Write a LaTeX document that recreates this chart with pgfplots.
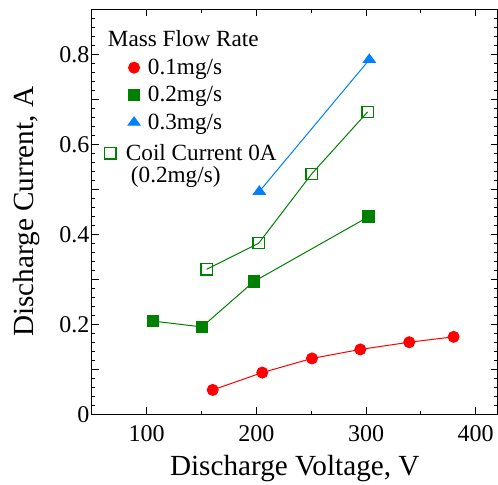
\documentclass[border=0pt]{standalone}
\usepackage{fontspec}
\setmainfont{Liberation Serif}
\usepackage{pgfplots}
\pgfplotsset{compat=1.18}
\definecolor{cred}{RGB}{255,0,0}
\definecolor{cgreen}{RGB}{0,128,0}
\definecolor{cblue}{RGB}{0,128,255}
\pgfplotsset{
  coilleg/.style={legend image code/.code={\path (-3.5pt,0pt) (6.7pt,0pt); \draw[overlay,##1] plot coordinates {(-11.8pt,-1.25pt)};}},
}
\begin{document}
\begin{tikzpicture}
\begin{axis}[
  scale only axis,
  width=202.9pt, height=202.5pt,
  xmin=50, xmax=420, ymin=0, ymax=0.9,
  xtick={0,100,200,300,400,500},
  xticklabels={0,100,200,300,400,500},
  minor x tick num=1,
  ytick={0,0.1,0.2,0.3,0.4,0.5,0.6,0.7,0.8,0.9},
  yticklabels={0,,0.2,,0.4,,0.6,,0.8,},
  minor y tick num=4,
  tick align=inside,
  tick pos=both,
  major tick length=3.5pt,
  minor tick length=1.75pt,
  every tick/.style={black, line width=0.5pt},
  axis line style={line width=0.6pt},
  tick label style={font=\fontsize{12}{14}\selectfont},
  xticklabel style={inner sep=0pt, anchor=north, yshift=-5.35pt},
  yticklabel style={inner sep=0pt, anchor=east, xshift=-1pt},
  xlabel={Discharge Voltage, V},
  ylabel={Discharge Current, A},
  label style={font=\fontsize{14.6}{17}\selectfont},
  xlabel style={at={(axis description cs:0.5,-0.1523)}, anchor=base},
  ylabel style={at={(axis description cs:-0.145,0.5)}, anchor=base},
  legend style={at={(0.0855,0.9546)}, anchor=north west, draw=none, fill=none,
    inner sep=0pt, outer sep=0pt, row sep=0pt, column sep=0pt,
    font=\fontsize{11.6}{13}\selectfont,
    nodes={inner sep=0pt, outer sep=0pt, text height=9.6pt, text depth=4.1pt}},
  legend cell align=left,
  legend image code/.code={\path (-3.5pt,0pt) (6.7pt,0pt); \draw[#1] plot coordinates {(0pt,0.55pt)};},
]
\addlegendimage{empty legend}
\addlegendentry{\hspace*{-20pt}Mass Flow Rate}

\addplot[cred, line width=0.5pt, mark=*, mark size=2.75pt, mark options={solid, fill=cred, draw=cred}]
  coordinates {(160.2,0.054) (205.4,0.0925) (250.7,0.124) (294.8,0.144) (339.4,0.160) (379.9,0.172)};
\addlegendentry{0.1mg/s}

\addplot[cgreen, line width=0.5pt, mark=square*, mark size=2.9pt, mark options={solid, fill=cgreen, draw=cgreen}]
  coordinates {(105.7,0.207) (150.4,0.194) (197.8,0.295) (302.4,0.439)};
\addlegendentry{0.2mg/s}

\addplot[cblue, line width=0.5pt, mark=triangle*, mark size=3.45pt, mark options={solid, fill=cblue, draw=cblue, yscale=0.8}]
  coordinates {(202.7,0.495) (303,0.788)};
\addlegendentry{0.3mg/s}

\addplot[cgreen, line width=0.5pt, mark=square, mark size=2.8pt, mark options={solid, draw=cgreen, line width=0.6pt}, forget plot]
  coordinates {(154.6,0.322) (202.1,0.380) (250.4,0.534) (301.5,0.672)};

\addlegendimage{only marks, cgreen, mark=square, mark size=2.8pt, mark options={solid, draw=cgreen, line width=0.6pt}, coilleg}
\addlegendentry{\raisebox{-1.85pt}{\hspace*{-11pt}Coil Current 0A}}
\addlegendimage{empty legend}
\addlegendentry{\raisebox{0.8pt}{\hspace*{-8.5pt}(0.2mg/s)}}
\end{axis}
\pgfresetboundingbox
\path ([xshift=-45.95pt,yshift=-35.35pt]current axis.south west) rectangle ([xshift=0.2pt,yshift=4.65pt]current axis.north east);
\end{tikzpicture}
\end{document}
